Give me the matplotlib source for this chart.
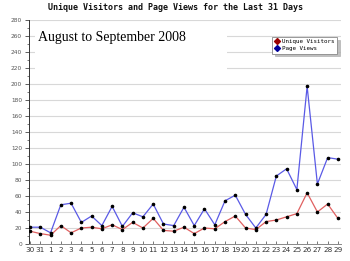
import matplotlib
matplotlib.use("Agg")
import matplotlib.pyplot as plt
from matplotlib.lines import Line2D
from matplotlib.patches import Rectangle

days = ["30", "31", "1", "2", "3", "4", "5", "6", "7", "8", "9", "10", "11", "12", "13",
        "14", "15", "16", "17", "18", "19", "20", "21", "22", "23", "24", "25", "26", "27", "28", "29"]
unique_visitors = [16, 13, 11, 23, 14, 20, 21, 19, 24, 18, 27, 20, 32, 17, 16,
                   21, 13, 20, 19, 28, 35, 20, 18, 28, 30, 34, 38, 64, 40, 50, 32]
page_views = [21, 21, 14, 49, 51, 27, 35, 23, 47, 22, 39, 34, 50, 25, 23,
              46, 23, 44, 24, 54, 61, 37, 20, 37, 85, 94, 68, 197, 75, 108, 106]
y_ticks = list(range(0, 281, 20))

fig = plt.figure(figsize=(3.5, 2.61), dpi=100)
ax = fig.add_axes([29/350, 1-244/261, 312/350, 224/261])
x = list(range(len(days)))

ax.set_xlim(-0.1, 30.3)
ax.set_ylim(0, 280)
for v in y_ticks[1:]:
    ax.axhline(v, color="#d8d8d8", lw=0.8, zorder=0)

# white box behind annotation text
ax.add_patch(Rectangle((35/350, 1-73/261), (227-35)/350, (73-27)/261, transform=fig.transFigure,
                       facecolor="white", edgecolor="none", zorder=1))

ax.plot(x, page_views, color="#5a5ae6", lw=0.9, zorder=3)
ax.plot(x, unique_visitors, color="#e06060", lw=0.9, zorder=3)
ax.plot(x, page_views, ls="none", marker="o", ms=1.6, color="black", zorder=4)
ax.plot(x, unique_visitors, ls="none", marker="o", ms=1.6, color="black", zorder=4)

ax.set_xticks(x)
ax.set_xticklabels(days, fontsize=5.2, color="#333333")
ax.set_yticks(y_ticks)
ax.set_yticklabels([str(v) for v in y_ticks], fontsize=4.2, color="#555555")
ax.set_yticks(list(range(10, 280, 20)), minor=True)
ax.tick_params(axis="y", which="major", length=3, width=0.6, color="#444444", pad=2)
ax.tick_params(axis="y", which="minor", length=1.5, width=0.5, color="#444444")
ax.tick_params(axis="x", which="major", length=2, width=0.5, direction="in", color="#444444", pad=2)
for s in ["top", "right"]:
    ax.spines[s].set_visible(False)
ax.spines["left"].set_color("#333333")
ax.spines["bottom"].set_color("#888888")
ax.spines["left"].set_linewidth(0.7)
ax.spines["bottom"].set_linewidth(0.7)

fig.text(0.5, 1-7/261, "Unique Visitors and Page Views for the Last 31 Days",
         ha="center", va="center", fontsize=6.0, fontweight="bold",
         family="DejaVu Sans Mono", color="#111111")
fig.text(38/350, 1-38/261, "August to September 2008", ha="left", va="center",
         fontsize=10, family="Liberation Serif", color="black", zorder=5)

handles = [Line2D([], [], color="#cc4444", marker="D", ms=3, mfc="#990000", mec="#990000", lw=0.8),
           Line2D([], [], color="#4444cc", marker="D", ms=3, mfc="#000099", mec="#000099", lw=0.8)]
leg = fig.legend(handles, ["Unique Visitors", "Page Views"], loc="upper left",
                 bbox_to_anchor=(272/350, 1-37/261), prop={"family": "DejaVu Sans Mono", "size": 4.2},
                 frameon=True, fancybox=False, shadow={"color": "#b0b0b0", "alpha": 0.8},
                 handlelength=0.9, handletextpad=0.4,
                 borderpad=0.4, labelspacing=0.3, borderaxespad=0)
leg.get_frame().set_edgecolor("#888888")
leg.get_frame().set_linewidth(0.6)

fig.savefig("out.png", dpi=100)
